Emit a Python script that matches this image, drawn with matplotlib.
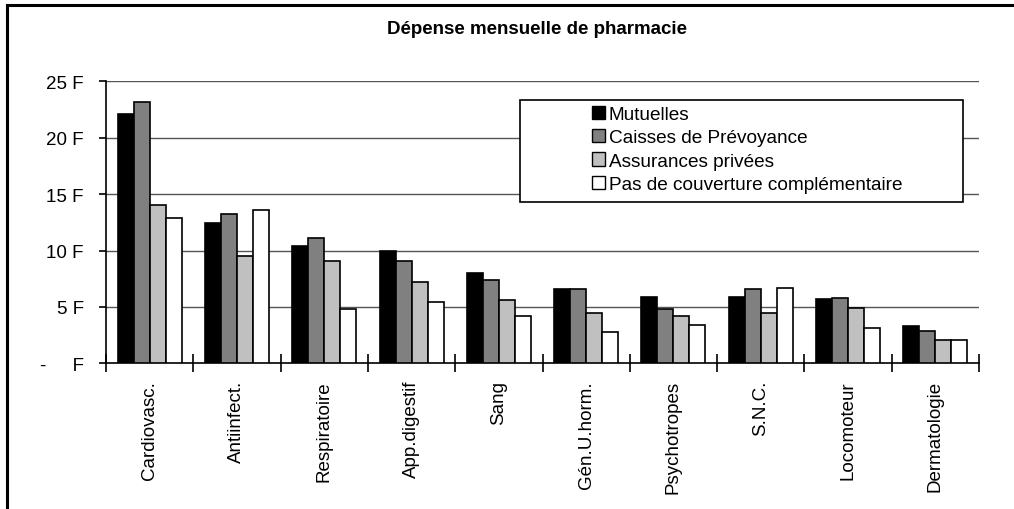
import numpy as np
import matplotlib
matplotlib.use("Agg")
import matplotlib.pyplot as plt
from matplotlib.patches import Rectangle, Patch
from matplotlib.lines import Line2D

plt.rcParams['font.family'] = ['Liberation Sans', 'DejaVu Sans']

# data (francs)
categories = ["Cardiovasc.", "Antiinfect.", "Respiratoire", "App.digestif", "Sang",
              "Gén.U.horm.", "Psychotropes", "S.N.C.", "Locomoteur", "Dermatologie"]
mutuelles = [22.1, 12.4, 10.4, 10.0, 8.0, 6.6, 5.9, 5.9, 5.7, 3.3]
caisses = [23.2, 13.2, 11.1, 9.1, 7.4, 6.6, 4.8, 6.6, 5.8, 2.9]
assurances = [14.0, 9.5, 9.1, 7.2, 5.6, 4.5, 4.2, 4.5, 4.9, 2.1]
sans_couverture = [12.9, 13.6, 4.8, 5.4, 4.2, 2.8, 3.4, 6.7, 3.1, 2.1]

series_names = ["Mutuelles", "Caisses de Prévoyance", "Assurances privées",
                "Pas de couverture complémentaire"]
series = [mutuelles, caisses, assurances, sans_couverture]
colors = ["#000000", "#808080", "#c0c0c0", "#ffffff"]
yticks = [0, 5, 10, 15, 20, 25]
ytick_labels = ["-     F", "5 F", "10 F", "15 F", "20 F", "25 F"]

W, H = 1014, 510
fig = plt.figure(figsize=(W / 100, H / 100), dpi=100)
ax = fig.add_axes([106 / W, 1 - 364.3 / H, (979 - 106) / W, (364.3 - 82.3) / H])

x = np.arange(len(categories))
bw = 0.183
for i, (vals, c) in enumerate(zip(series, colors)):
    ax.bar(x + (i - 1.5) * bw, vals, width=bw, color=c, edgecolor="black",
           linewidth=1.2, zorder=3)

ax.set_xlim(-0.5, len(categories) - 0.5)
ax.set_ylim(0, 25)
ax.set_yticks(yticks)
ax.set_yticklabels(ytick_labels, fontsize=13.5)
for y in yticks[1:]:
    ax.axhline(y, color="#555555", linewidth=1.0, zorder=1)

ax.set_xticks(x)
ax.set_xticklabels(categories, rotation=90, fontsize=13.5)
ax.set_xticks(np.arange(-0.5, len(categories)), minor=True)
ax.tick_params(axis="x", which="major", length=0, pad=12)
ax.tick_params(axis="x", which="minor", length=13, direction="inout", width=1.2)
ax.tick_params(axis="y", which="major", length=5, width=1.2, pad=11)
for s in ["top", "right"]:
    ax.spines[s].set_visible(False)
for s in ["left", "bottom"]:
    ax.spines[s].set_linewidth(1.2)

fig.text(537 / W, 1 - 30 / H, "Dépense mensuelle de pharmacie", ha="center",
         va="center", fontsize=13.5, fontweight="bold")

# legend box
fig.add_artist(Rectangle((520 / W, 1 - 203 / H), (963 - 520) / W, (203 - 101) / H,
                         transform=fig.transFigure, facecolor="white",
                         edgecolor="black", linewidth=1.2, zorder=5))
handles = [Patch(facecolor=c, edgecolor="black", linewidth=1.0) for c in colors]
leg = fig.legend(handles, series_names, loc="upper left",
                 bbox_to_anchor=(584 / W, 1 - 99 / H), frameon=False,
                 fontsize=13.7, handlelength=0.7, handleheight=0.7,
                 handletextpad=0.2, labelspacing=0.32, borderaxespad=0)
leg.set_zorder(6)

# outer frame (top and left edges visible)
fig.add_artist(Line2D([6.5 / W, 6.5 / W], [0, 1 - 5.5 / H], color="black",
                      linewidth=2.2, transform=fig.transFigure))
fig.add_artist(Line2D([6.5 / W, 1], [1 - 5.5 / H, 1 - 5.5 / H], color="black",
                      linewidth=2.2, transform=fig.transFigure))

fig.savefig("out.png", dpi=100)
